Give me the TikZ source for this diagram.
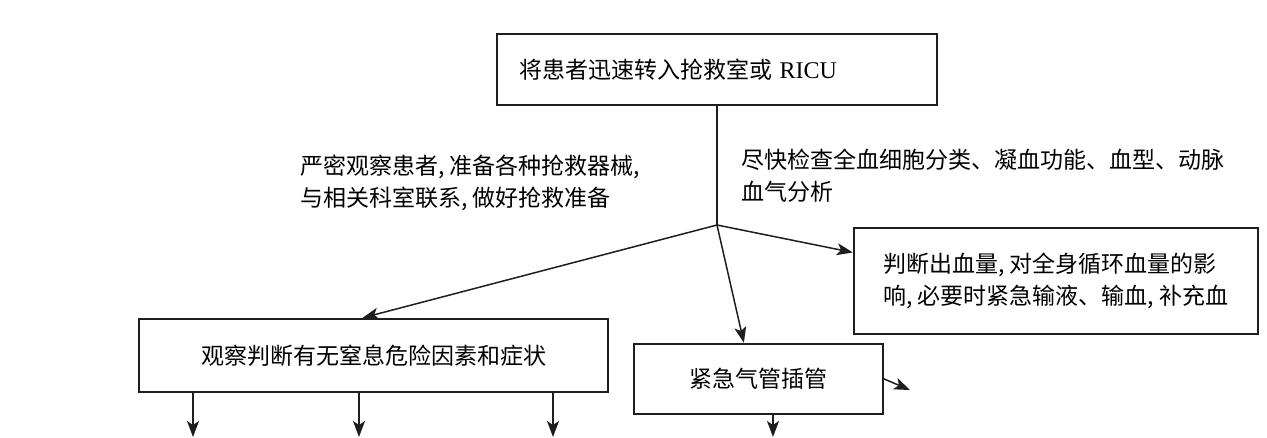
\documentclass[tikz,border=0pt]{standalone}
\usepackage{fontspec}
\setmainfont{Liberation Serif}
\newfontfamily\cjkfont{Noto Sans CJK SC}
\usetikzlibrary{arrows.meta}

\begin{document}
\begin{tikzpicture}[x=1pt,y=-1pt,line cap=rect,
		flowbox/.style={draw=custcol_0_0_0, line width=2.4pt, inner sep=0, font=\flowfont},
		flowtext/.style={inner sep=0, outer sep=0, align=left, anchor=west, font=\flowfont},
		flowline/.style={draw=custcol_0_0_0, line width=1.5pt, -{Stealth[length=16pt,width=12pt,inset=4pt]}}]
					\def\flowfont{\cjkfont\fontsize{23pt}{32pt}\selectfont} % original font was a Song face
					\definecolor{custcol_0_0_0}{RGB}{30, 30, 30}
					\useasboundingbox (0.0,0.0) rectangle (1267.0,437.0);
					% boxes
					\node[flowbox, minimum width=440, minimum height=71, text width=396, align=left] (top) at (717.0,69.5) {将患者迅速转入抢救室或 {\rmfamily\fontsize{24pt}{32pt}\selectfont RICU}};
					\node[flowbox, minimum width=469, minimum height=73, align=center] (watch) at (373.5,355.5) {观察判断有无窒息危险因素和症状};
					\node[flowbox, minimum width=249, minimum height=70, align=center] (intub) at (758.5,379.0) {紧急气管插管};
					\node[flowbox, minimum width=404, minimum height=106, align=left] (blood) at (1056.0,281.0) {判断出血量, 对全身循环血量的影\\响, 必要时紧急输液、输血, 补充血};
					% side notes
					\node[flowtext] (prepare) at (300.0,183.0) {严密观察患者, 准备各种抢救器械,\\与相关科室联系, 做好抢救准备};
					\node[flowtext] (check) at (741.0,175.5) {尽快检查全血细胞分类、凝血功能、血型、动脉\\血气分析};
					% connectors
					\coordinate (split) at (717.0,225.0);
					\draw [line width=1.5pt, custcol_0_0_0 ]  (top.south) -- (split) ;
					\draw [flowline]  (split) -- (watch.106) ;
					\draw [flowline]  (split) -- (intub.112) ;
					\draw [flowline]  (split) -- (blood.172) ;
					\coordinate (nextA) at (193.0,437.0);
					\coordinate (nextB) at (359.0,437.0);
					\coordinate (nextC) at (553.0,437.0);
					\coordinate (nextD) at (773.0,437.0);
					\coordinate (nextE) at (910.0,390.0);
					\draw [flowline]  (watch.south -| nextA) -- (nextA) ;
					\draw [flowline]  (watch.south -| nextB) -- (nextB) ;
					\draw [flowline]  (watch.south -| nextC) -- (nextC) ;
					\draw [flowline]  (intub.south -| nextD) -- (nextD) ;
					\draw [flowline]  (intub.east) -- (nextE) ;
				\end{tikzpicture}
\end{document}
